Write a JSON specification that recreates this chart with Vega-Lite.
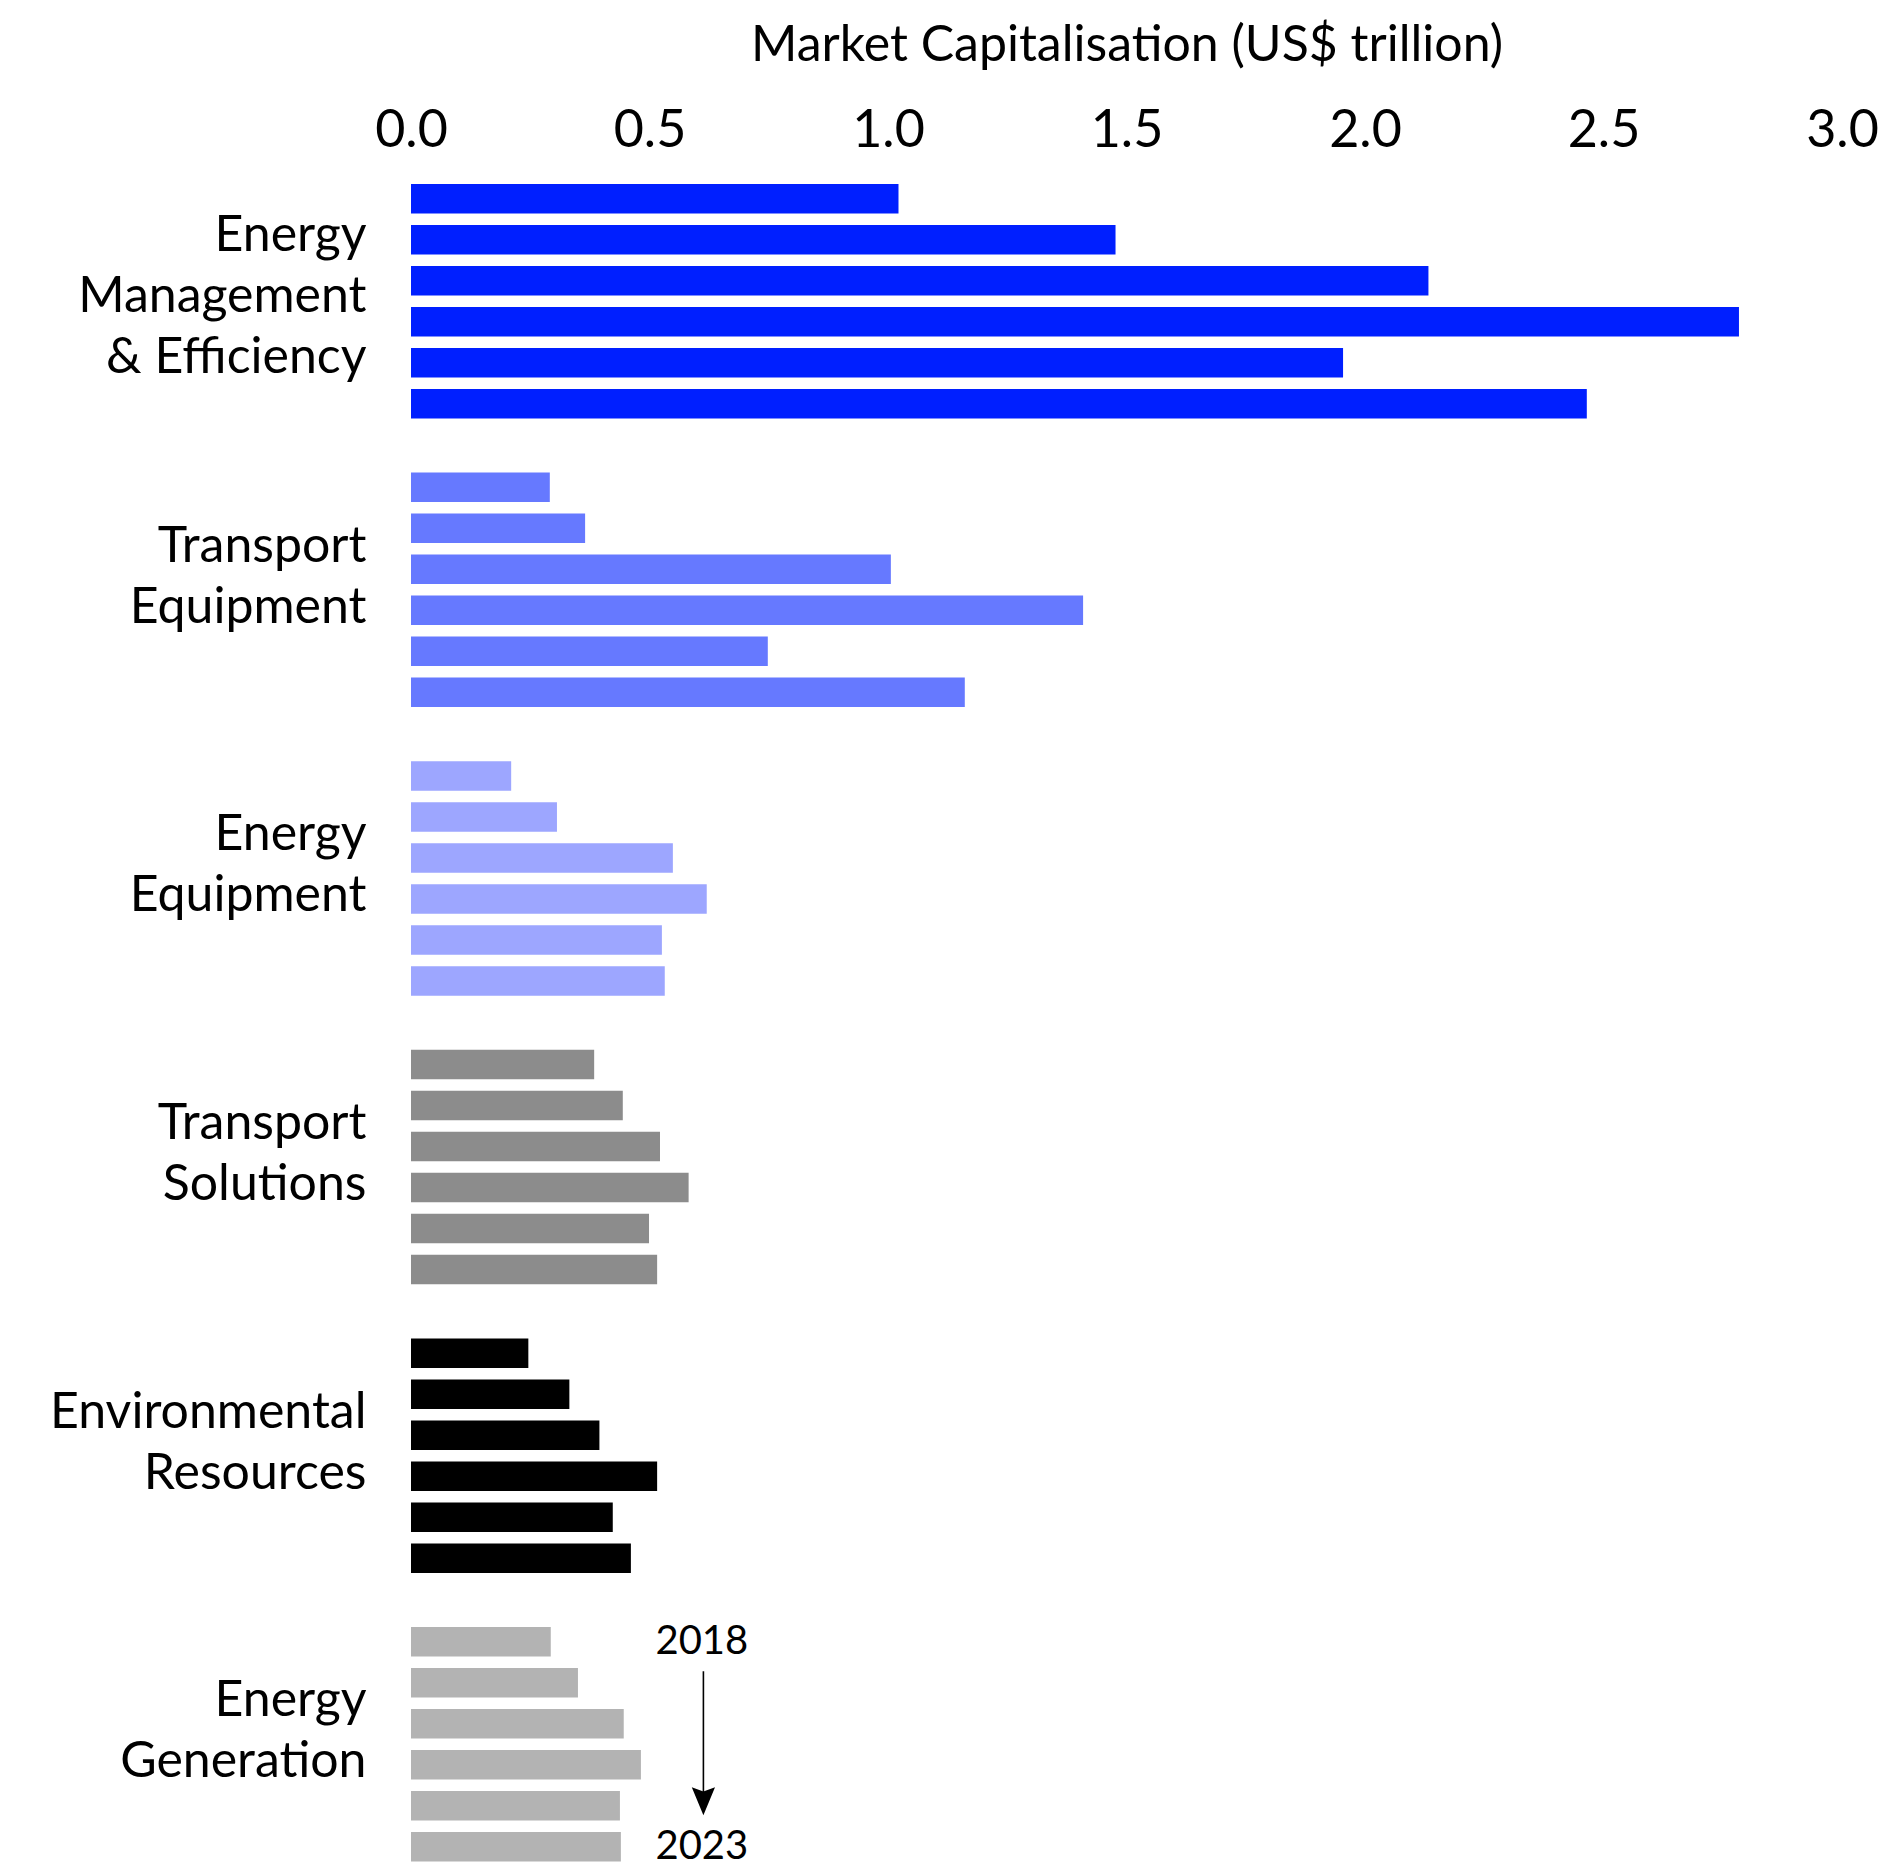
{
  "$schema": "https://vega.github.io/schema/vega-lite/v6.json",
  "background": "white",
  "padding": {"left": 49, "top": 20, "right": 0, "bottom": 0},
  "width": 1431,
  "height": 1677.5,
  "data": {"values": [
    {"category": "Energy Management & Efficiency", "year": "2018", "value": 1.022},
    {"category": "Energy Management & Efficiency", "year": "2019", "value": 1.477},
    {"category": "Energy Management & Efficiency", "year": "2020", "value": 2.133},
    {"category": "Energy Management & Efficiency", "year": "2021", "value": 2.784},
    {"category": "Energy Management & Efficiency", "year": "2022", "value": 1.954},
    {"category": "Energy Management & Efficiency", "year": "2023", "value": 2.465},
    {"category": "Transport Equipment", "year": "2018", "value": 0.291},
    {"category": "Transport Equipment", "year": "2019", "value": 0.365},
    {"category": "Transport Equipment", "year": "2020", "value": 1.006},
    {"category": "Transport Equipment", "year": "2021", "value": 1.409},
    {"category": "Transport Equipment", "year": "2022", "value": 0.748},
    {"category": "Transport Equipment", "year": "2023", "value": 1.161},
    {"category": "Energy Equipment", "year": "2018", "value": 0.21},
    {"category": "Energy Equipment", "year": "2019", "value": 0.306},
    {"category": "Energy Equipment", "year": "2020", "value": 0.549},
    {"category": "Energy Equipment", "year": "2021", "value": 0.62},
    {"category": "Energy Equipment", "year": "2022", "value": 0.526},
    {"category": "Energy Equipment", "year": "2023", "value": 0.532},
    {"category": "Transport Solutions", "year": "2018", "value": 0.384},
    {"category": "Transport Solutions", "year": "2019", "value": 0.444},
    {"category": "Transport Solutions", "year": "2020", "value": 0.522},
    {"category": "Transport Solutions", "year": "2021", "value": 0.582},
    {"category": "Transport Solutions", "year": "2022", "value": 0.499},
    {"category": "Transport Solutions", "year": "2023", "value": 0.516},
    {"category": "Environmental Resources", "year": "2018", "value": 0.246},
    {"category": "Environmental Resources", "year": "2019", "value": 0.332},
    {"category": "Environmental Resources", "year": "2020", "value": 0.395},
    {"category": "Environmental Resources", "year": "2021", "value": 0.516},
    {"category": "Environmental Resources", "year": "2022", "value": 0.423},
    {"category": "Environmental Resources", "year": "2023", "value": 0.461},
    {"category": "Energy Generation", "year": "2018", "value": 0.293},
    {"category": "Energy Generation", "year": "2019", "value": 0.35},
    {"category": "Energy Generation", "year": "2020", "value": 0.446},
    {"category": "Energy Generation", "year": "2021", "value": 0.482},
    {"category": "Energy Generation", "year": "2022", "value": 0.438},
    {"category": "Energy Generation", "year": "2023", "value": 0.44},
    {"category": "Energy Generation", "year": "2018", "note": "2018", "pos": 0.707},
    {"category": "Energy Generation", "year": "2023", "note": "2023", "pos": 0.707},
    {"category": "Energy Generation", "arrow": 0.613}
  ]},
  "encoding": {
    "y": {
      "field": "category",
      "type": "nominal",
      "sort": ["Energy Management & Efficiency", "Transport Equipment", "Energy Equipment", "Transport Solutions", "Environmental Resources", "Energy Generation"],
      "scale": {"paddingInner": 0.1875, "paddingOuter": 0},
      "axis": {
        "title": null,
        "ticks": false,
        "tickSize": 0,
        "domain": false,
        "grid": false,
        "labelFont": "Lato",
        "labelFontSize": 50,
        "labelColor": "black",
        "labelAlign": "right",
        "labelBaseline": "middle",
        "labelLineHeight": 61,
        "labelPadding": 45,
        "labelLimit": 0,
        "labelOverlap": false,
        "labelOffset": {"condition": {"test": "datum.value == 'Energy Management & Efficiency'", "value": -65}, "value": -43},
        "labelExpr": "datum.value == 'Energy Management & Efficiency' ? ['Energy', 'Management', '& Efficiency'] : [split(datum.value, ' ')[0], split(datum.value, ' ')[1]]"
      }
    }
  },
  "layer": [
    {
      "transform": [{"filter": "isValid(datum.value)"}],
      "mark": {"type": "bar"},
      "encoding": {
        "yOffset": {"field": "year", "type": "ordinal", "sort": "ascending",
                    "scale": {"paddingInner": 0.28, "paddingOuter": 0}},
        "x": {
          "field": "value", "type": "quantitative",
          "scale": {"domain": [0, 3], "nice": false},
          "axis": {
            "orient": "top",
            "title": "Market Capitalisation (US$ trillion)",
            "values": [0, 0.5, 1, 1.5, 2, 2.5, 3],
            "format": ".1f",
            "ticks": false,
            "tickSize": 0,
            "domain": false,
            "grid": false,
            "labelFont": "Lato",
            "labelFontSize": 52,
            "labelColor": "black",
            "labelBaseline": "alphabetic",
            "labelPadding": 38,
            "labelFlush": false,
            "labelOverlap": false,
            "titleFont": "Lato",
            "titleFontSize": 50,
            "titleFontWeight": "normal",
            "titleColor": "black",
            "titleBaseline": "alphabetic",
            "titlePadding": 44
          }
        },
        "color": {
          "field": "category", "type": "nominal", "legend": null,
          "scale": {
            "domain": ["Energy Management & Efficiency", "Transport Equipment", "Energy Equipment", "Transport Solutions", "Environmental Resources", "Energy Generation"],
            "range": ["#001FFF", "#6679FF", "#9DA6FF", "#8C8C8C", "#000000", "#B3B3B3"]
          }
        }
      }
    },
    {
      "transform": [{"filter": "isValid(datum.note)"}],
      "mark": {"type": "text", "font": "Lato", "fontSize": 40, "align": "right", "baseline": "middle", "color": "black"},
      "encoding": {
        "yOffset": {"field": "year", "type": "ordinal", "sort": "ascending"},
        "x": {"field": "pos", "type": "quantitative"},
        "text": {"field": "note"}
      }
    },
    {
      "transform": [{"filter": "isValid(datum.arrow)"}],
      "mark": {"type": "rule", "color": "black", "strokeWidth": 1.6, "yOffset": -73, "y2Offset": 55},
      "encoding": {
        "x": {"field": "arrow", "type": "quantitative"},
        "y2": {"field": "category"}
      }
    },
    {
      "transform": [{"filter": "isValid(datum.arrow)"}],
      "mark": {"type": "point", "filled": true, "color": "black", "opacity": 1, "size": 784,
               "shape": "M-0.83,-1L0,-0.7L0.83,-1L0,1Z", "yOffset": 57},
      "encoding": {
        "x": {"field": "arrow", "type": "quantitative"}
      }
    }
  ],
  "config": {
    "view": {"stroke": null},
    "font": "Lato"
  }
}
